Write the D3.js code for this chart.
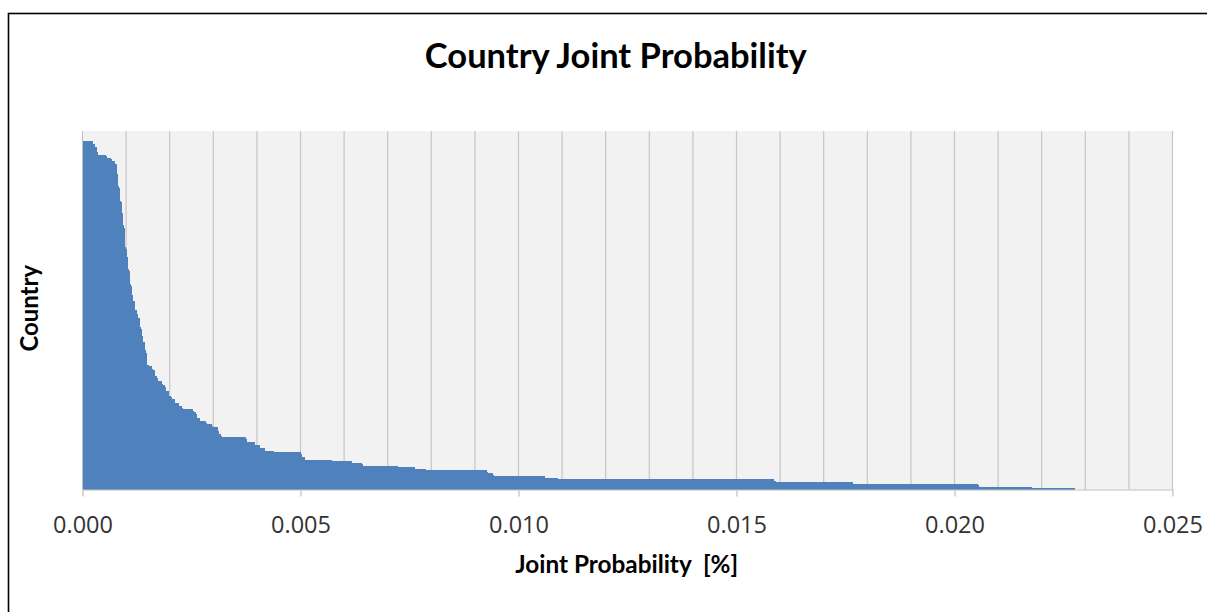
<!DOCTYPE html>
<html>
<head>
<meta charset="utf-8">
<script src="https://cdn.jsdelivr.net/npm/d3@7/dist/d3.min.js"></script>
<style>
  html, body { margin: 0; padding: 0; background: #fff; }
  svg { display: block; }
  text { font-family: "Open Sans", "Liberation Sans", sans-serif; }
  .ttl { font-family: Lato, "Open Sans", sans-serif; font-weight: bold; }
</style>
</head>
<body>
<svg id="chart" width="1207" height="612"></svg>
<script>
// ---- Data (top of chart to bottom) ----
const values = [
  0.000003, 0.000004, 0.000005, 0.000006, 0.000008, 0.000010, 0.000012,
  0.000245, 0.000250,
  0.000285, 0.000289,
  0.000322, 0.000326, 0.000330,
  0.000360, 0.000364,
  0.000548, 0.000560,
  0.000665, 0.000675,
  0.000740, 0.000748,
  0.000780, 0.000781, 0.000783, 0.000784, 0.000786, 0.000787, 0.000789,
  0.000815, 0.000817, 0.000818, 0.000820, 0.000821, 0.000822, 0.000824, 0.000825, 0.000827,
  0.000855, 0.000856, 0.000858, 0.000859, 0.000860, 0.000862, 0.000863, 0.000864, 0.000866,
  0.000894, 0.000896, 0.000897, 0.000899, 0.000900, 0.000902, 0.000903, 0.000905,
  0.000930, 0.000932, 0.000933, 0.000934, 0.000936, 0.000937, 0.000938, 0.000940, 0.000941, 0.000943,
  0.000968, 0.000969, 0.000971, 0.000972, 0.000973, 0.000974, 0.000975, 0.000976, 0.000977, 0.000978, 0.000980, 0.000981, 0.000982,
  0.001008, 0.001010, 0.001012, 0.001014, 0.001016, 0.001018, 0.001020,
  0.001044, 0.001045, 0.001047, 0.001048, 0.001050, 0.001051, 0.001053, 0.001054, 0.001056,
  0.001083, 0.001084, 0.001086, 0.001087, 0.001089, 0.001090, 0.001092, 0.001093, 0.001095,
  0.001122, 0.001124, 0.001126, 0.001128, 0.001130, 0.001132, 0.001134,
  0.001160, 0.001163, 0.001166, 0.001169,
  0.001198, 0.001200, 0.001203, 0.001205, 0.001208, 0.001210,
  0.001255, 0.001258, 0.001260, 0.001262, 0.001265, 0.001267,
  0.001313, 0.001316, 0.001318, 0.001320, 0.001322, 0.001325,
  0.001352, 0.001355, 0.001357, 0.001359, 0.001361, 0.001364,
  0.001389, 0.001392, 0.001395, 0.001398,
  0.001428, 0.001431, 0.001433, 0.001435, 0.001438,
  0.001465, 0.001467, 0.001468, 0.001470, 0.001471, 0.001473, 0.001474, 0.001476, 0.001477, 0.001479,
  0.001525,
  0.001595, 0.001600, 0.001606,
  0.001655, 0.001660, 0.001665, 0.001670,
  0.001720, 0.001725, 0.001730,
  0.001822, 0.001830, 0.001838,
  0.001900, 0.001905, 0.001910, 0.001915,
  0.001978, 0.001984, 0.001990,
  0.002040, 0.002050,
  0.002115, 0.002122, 0.002130,
  0.002208, 0.002218,
  0.002284, 0.002294,
  0.002535, 0.002547,
  0.002610, 0.002616, 0.002622, 0.002628,
  0.002690, 0.002700,
  0.002842, 0.002856,
  0.002970, 0.002984,
  0.003105, 0.003110, 0.003115, 0.003120, 0.003125,
  0.003188, 0.003198,
  0.003755, 0.003766, 0.003777,
  0.003950, 0.003962,
  0.004065, 0.004078,
  0.004180, 0.004192,
  0.004399,
  0.005020, 0.005028, 0.005036,
  0.005098, 0.005108,
  0.005716,
  0.006174,
  0.006420, 0.006430,
  0.007243,
  0.007626,
  0.007878,
  0.009285, 0.009300,
  0.009415, 0.009428,
  0.010608,
  0.010913,
  0.015870, 0.015895,
  0.017679,
  0.020530, 0.020560,
  0.021784,
  0.022763
];
// Category labels are hidden in the reference; one id per country
const categories = values.map((_, i) => "Country " + (i + 1));
const xTickValues = [0, 0.005, 0.010, 0.015, 0.020, 0.025];
const xDomain = [0, 0.025];
const titleText = "Country Joint Probability";
const xTitleText = "Joint Probability  [%]";
const yTitleText = "Country";

// ---- Layout ----
const svg = d3.select("#chart");
const plot = { left: 82.5, right: 1172.5, top: 131, bottom: 489.5 };

// outer frame
svg.append("rect")
  .attr("x", 8.5).attr("y", 13.5).attr("width", 1300).attr("height", 700)
  .attr("fill", "#fff").attr("stroke", "#000").attr("stroke-width", 1.6);

const x = d3.scaleLinear().domain(xDomain).range([plot.left, plot.right]);
const y = d3.scaleBand().domain(categories).range([plot.top, plot.bottom]).padding(0);

// plot background
svg.append("rect")
  .attr("x", plot.left).attr("y", plot.top)
  .attr("width", plot.right - plot.left).attr("height", plot.bottom - plot.top)
  .attr("fill", "#f2f2f2");

// vertical gridlines every 0.001
svg.append("g").selectAll("line")
  .data(x.ticks(25).filter(d => d > 0))
  .join("line")
  .attr("x1", d => x(d)).attr("x2", d => x(d))
  .attr("y1", plot.top).attr("y2", plot.bottom)
  .attr("stroke", "#c6c6c6").attr("stroke-width", 1.2);

// bars
svg.append("g").selectAll("rect")
  .data(values)
  .join("rect")
  .attr("x", x(0))
  .attr("y", (d, i) => y(categories[i]))
  .attr("width", d => x(d) - x(0))
  .attr("height", y.bandwidth())
  .attr("fill", "#4f81bd")
  .attr("shape-rendering", "crispEdges");

// left axis line
svg.append("line")
  .attr("x1", plot.left).attr("x2", plot.left)
  .attr("y1", plot.top).attr("y2", plot.bottom)
  .attr("stroke", "#bfbfbf").attr("stroke-width", 1);

// x axis
const xAxis = svg.append("g")
  .attr("transform", `translate(0,${plot.bottom})`)
  .call(d3.axisBottom(x).tickValues(xTickValues).tickFormat(d3.format(".3f")).tickSize(7).tickSizeOuter(0));
xAxis.select(".domain").attr("stroke", "#bfbfbf").attr("stroke-width", 1.2);
xAxis.selectAll(".tick line").attr("stroke", "#bfbfbf").attr("stroke-width", 1.2);
xAxis.selectAll(".tick text")
  .attr("y", 43.5).attr("dy", 0)
  .attr("fill", "#333")
  .style("font-family", '"Open Sans", sans-serif')
  .style("font-size", "23.5px");

function fitText(sel, targetWidth, size) {
  sel.style("font-size", size + "px");
  const w = sel.node().getComputedTextLength();
  if (w > 0) sel.style("font-size", (size * targetWidth / w) + "px");
}

// title
const title = svg.append("text").attr("class", "ttl")
  .attr("x", 615.8).attr("y", 68.3)
  .attr("text-anchor", "middle").attr("fill", "#000")
  .text(titleText);
fitText(title, 382, 26);

// x axis title
const xt = svg.append("text").attr("class", "ttl")
  .attr("x", 626.7).attr("y", 573.3)
  .attr("text-anchor", "middle").attr("fill", "#000")
  .style("white-space", "pre")
  .text(xTitleText);
fitText(xt, 223, 23);

// y axis title
const yt = svg.append("text").attr("class", "ttl")
  .attr("transform", "translate(38.3,308.3) rotate(-90)")
  .attr("text-anchor", "middle").attr("fill", "#000")
  .text(yTitleText);
fitText(yt, 86.7, 23);
</script>
</body>
</html>
